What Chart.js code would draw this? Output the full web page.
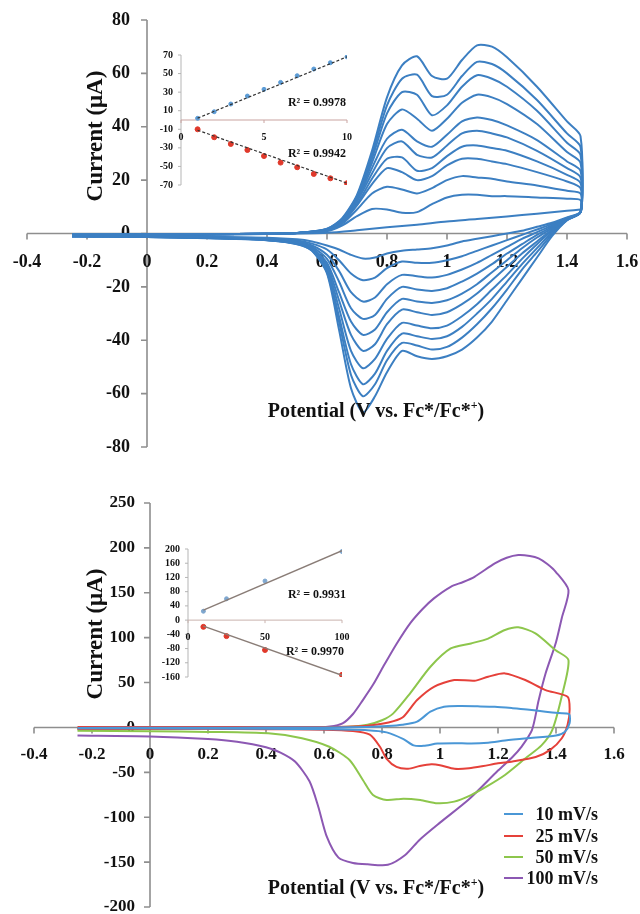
<!DOCTYPE html>
<html>
<head>
<meta charset="utf-8">
<script src="https://cdn.jsdelivr.net/npm/chart.js@4.4.1/dist/chart.umd.min.js"></script>
<style>
  body { margin: 0; background: #fff; }
  #page { position: relative; width: 640px; height: 914px; overflow: hidden; font-family: "Liberation Serif", "Times New Roman", serif; font-weight: bold; color: #111; }
  canvas { position: absolute; }
  .txt { position: absolute; white-space: nowrap; transform: translate(-50%, -50%); }
  .ytitle { font-size: 23px; transform: translate(-50%, -50%) rotate(-90deg); }
  .xtitle { font-size: 20px; }
  .r2 { font-size: 12px; }
  .lg-line { position: absolute; width: 19px; height: 2px; }
  .lg-text { position: absolute; white-space: nowrap; font-size: 18px; transform: translate(-100%, -50%); }
</style>
</head>
<body>
<div id="page">
  <canvas id="cvTop" width="640" height="460" style="left:0;top:0"></canvas>
  <canvas id="cvBottom" width="640" height="454" style="left:0;top:460px"></canvas>
  <canvas id="insetTop" width="260" height="180" style="left:120px;top:30px"></canvas>
  <canvas id="insetBottom" width="250" height="170" style="left:130px;top:530px"></canvas>

  <div class="txt ytitle" style="left:95px;top:136px">Current (μA)</div>
  <div class="txt xtitle" style="left:376px;top:410px">Potential (V vs. Fc*/Fc*<sup style="font-size:12px">+</sup>)</div>
  <div class="txt r2" style="left:317px;top:102px">R² = 0.9978</div>
  <div class="txt r2" style="left:317px;top:153px">R² = 0.9942</div>

  <div class="txt ytitle" style="left:95px;top:634px">Current (μA)</div>
  <div class="txt xtitle" style="left:376px;top:887px">Potential (V vs. Fc*/Fc*<sup style="font-size:12px">+</sup>)</div>
  <div class="txt r2" style="left:317px;top:594px">R² = 0.9931</div>
  <div class="txt r2" style="left:315px;top:651px">R² = 0.9970</div>
  <div id="legend"></div>
</div>

<script>
// ---- top panel: CVs at 1..10 mV/s, forward and reverse sweeps on shared potential grids
const scanRatesTop = [1, 2, 3, 4, 5, 6, 7, 8, 9, 10];
const fwdV = [-0.25, 0, 0.2, 0.4, 0.5, 0.6, 0.65, 0.7, 0.75, 0.8, 0.85, 0.9, 0.95, 1.0, 1.05, 1.1, 1.15, 1.2, 1.3, 1.4, 1.445];
const fwdI = [
  [-0.5, -0.4, -0.3, -0.1, 0.2, 0.9, 3, 6.5, 9.2, 9, 7.8, 8, 11, 13.5, 14.5, 14.5, 14, 14, 13.5, 13, 12.5],
  [-0.5, -0.4, -0.3, -0.1, 0.2, 1, 3.6, 9, 15, 17.5, 16.5, 15, 17, 20, 21.5, 21, 20.5, 19.5, 18, 16, 15],
  [-0.5, -0.4, -0.3, -0.1, 0.2, 1.1, 4, 10.5, 18.5, 24.5, 23, 20, 21.5, 25.5, 28, 28, 27, 26, 23, 19.5, 17],
  [-0.5, -0.4, -0.3, -0.1, 0.2, 1.2, 4.3, 11, 20.5, 28, 28.5, 23.5, 24.5, 29, 32.5, 33, 32, 31, 27, 22, 19],
  [-0.5, -0.4, -0.3, -0.1, 0.2, 1.3, 4.6, 12, 22.5, 32, 34.5, 29.5, 28.5, 33, 37.5, 38.5, 37.5, 36, 31, 24.5, 21],
  [-0.5, -0.4, -0.3, -0.1, 0.2, 1.4, 4.9, 12.5, 24.5, 35.5, 38.9, 34.5, 32.5, 37, 42, 43.5, 42.5, 40.5, 35, 27, 23.5],
  [-0.5, -0.4, -0.3, -0.1, 0.2, 1.5, 5.1, 13, 26.5, 41, 46.5, 43, 38.5, 43, 49, 52, 51, 48.5, 41, 30.5, 26.5],
  [-0.5, -0.4, -0.3, -0.1, 0.2, 1.6, 5.3, 13.5, 28, 45, 53, 52, 44.3, 48, 55, 59.3, 58, 55, 46, 34, 29.5],
  [-0.5, -0.4, -0.3, -0.1, 0.2, 1.7, 5.5, 14, 29.5, 48, 58, 59.5, 51.5, 52, 59, 64.3, 63.5, 60, 50, 37.5, 32.5],
  [-0.5, -0.4, -0.3, -0.1, 0.2, 1.8, 5.7, 14.5, 31, 51, 63, 66.4, 59, 58, 65, 70.5, 70, 66, 55, 42, 36.5]
];
const revV = [1.445, 1.4, 1.35, 1.3, 1.25, 1.2, 1.15, 1.1, 1.05, 1.0, 0.95, 0.9, 0.85, 0.8, 0.76, 0.72, 0.68, 0.64, 0.6, 0.55, 0.5, 0.4, 0.2, 0, -0.25];
const revI = [
  [8, 6, 4, 2.5, 1, 0, -1, -2, -3, -4.5, -5.5, -6, -6.5, -7.5, -9, -9.4, -8, -6, -4.5, -3, -2.2, -1.6, -1.2, -1, -0.8],
  [8, 5.8, 3.5, 1.5, -0.5, -2.5, -4.5, -6.5, -8.5, -10, -11, -11, -10.5, -13, -16.5, -17.5, -15, -10, -6, -3.8, -2.6, -1.8, -1.3, -1.1, -0.9],
  [8, 5.6, 3, 0.5, -2, -5, -8, -11, -13.5, -15.5, -16.5, -16, -15.5, -19, -24, -25.5, -22, -14, -8, -4.5, -3, -2, -1.4, -1.1, -0.9],
  [8, 5.5, 2.5, -0.5, -4, -7.5, -11.5, -15, -18, -20.5, -21.5, -21, -20, -24.5, -30.5, -32, -28, -18, -9.5, -5, -3.2, -2.1, -1.5, -1.2, -1],
  [8, 5.4, 2, -1.5, -5.5, -10, -14.5, -19, -22.5, -25, -26, -25.5, -24.5, -29.5, -36, -38, -33, -22, -11, -5.5, -3.4, -2.2, -1.5, -1.2, -1],
  [8, 5.3, 1.5, -3, -7.5, -12.5, -17.5, -22.5, -26.5, -29.5, -30.5, -29.5, -28.5, -34, -41.5, -44, -38, -25, -12, -5.8, -3.6, -2.3, -1.6, -1.2, -1],
  [8, 5.2, 1, -4, -9.5, -15.5, -21, -26.5, -31, -34.5, -35.5, -34.5, -33.5, -39.5, -47, -50.5, -44, -28, -13, -6, -3.7, -2.4, -1.6, -1.3, -1],
  [8, 5.1, 0.5, -5.5, -11.5, -18, -24.5, -30, -35, -38.5, -39.5, -38.5, -37.5, -44, -52.5, -56.5, -49, -31, -14, -6.2, -3.8, -2.4, -1.7, -1.3, -1],
  [8, 5, -0.3, -7, -13.5, -21, -28, -34, -39, -42.5, -43.5, -42, -41, -47.5, -56.5, -61, -53, -33, -14.5, -6.4, -3.9, -2.5, -1.7, -1.3, -1],
  [8, 5, -1, -9, -17, -25, -33, -39, -43.5, -46, -47, -46, -44, -52, -61, -67, -58, -36, -15, -6.5, -4, -2.5, -1.8, -1.3, -1]
];
// faint baseline sweep lying under the smallest loop
const baseV = [-0.25, 0, 0.2, 0.4, 0.6, 0.7, 0.8, 0.9, 1.0, 1.1, 1.2, 1.3, 1.4, 1.445];
const baseI = [-1, -0.8, -0.5, -0.2, 0.3, 1.2, 2.3, 3.3, 4.5, 5.4, 6.4, 7.4, 8.5, 9];

const topXTicks = [-0.4, -0.2, 0, 0.2, 0.4, 0.6, 0.8, 1, 1.2, 1.4, 1.6];
const topYTicks = [80, 60, 40, 20, 0, -20, -40, -60, -80];

// inset of the top panel: peak currents vs scan rate
const insetTopX = [1, 2, 3, 4, 5, 6, 7, 8, 9, 10];
const insetTopOx = [1.8, 8.9, 17.2, 25.8, 33, 40.5, 47.7, 54.9, 61.7, 68];
const insetTopRed = [-10, -18.6, -25.8, -32.3, -38.8, -45.9, -50.9, -58.1, -62.8, -68.1];
const insetTopFitX = [1, 10];
const insetTopFitOx = [2, 68];
const insetTopFitRed = [-11, -68];
const insetTopXTicks = [0, 5, 10];
const insetTopYTicks = [70, 50, 30, 10, -10, -30, -50, -70];

// ---- bottom panel: CVs at four scan rates
const legendNames = ['10 mV/s', '25 mV/s', '50 mV/s', '100 mV/s'];
const v10 = [-0.25, 0, 0.2, 0.4, 0.6, 0.75, 0.82, 0.87, 0.921, 0.967, 1.014, 1.07, 1.13, 1.189, 1.25, 1.3, 1.364, 1.41, 1.445, 1.447, 1.43, 1.4, 1.3, 1.224, 1.166, 1.107, 1.049, 0.991, 0.944, 0.909, 0.874, 0.816, 0.75, 0.6, 0.4, 0.2, 0, -0.25];
const i10 = [-0.5, -0.4, -0.3, -0.2, 0, 0.5, 1.5, 3, 6.4, 17.5, 23, 23.8, 23.5, 23, 21.5, 20, 17.5, 16, 14.9, 5, -5, -9, -12, -14.5, -17, -18, -17.5, -18, -20.5, -20, -13, -5.5, -3, -2, -1.5, -1.2, -1, -1];
const v25 = [-0.25, 0, 0.2, 0.4, 0.6, 0.7, 0.75, 0.8, 0.84, 0.874, 0.921, 0.979, 1.049, 1.119, 1.166, 1.224, 1.294, 1.364, 1.44, 1.447, 1.44, 1.42, 1.38, 1.33, 1.25, 1.2, 1.15, 1.1, 1.05, 1.0, 0.97, 0.93, 0.89, 0.85, 0.816, 0.793, 0.758, 0.7, 0.6, 0.4, 0.2, 0, -0.25];
const i25 = [0.5, 0.5, 0.5, 0.5, 0.5, 1, 2, 4, 7, 12, 30.5, 45.3, 52.8, 52, 56.5, 60.2, 52.8, 41.6, 34.2, 20, 3, -12, -25, -33, -38, -40, -43, -45.5, -46, -42, -41, -43, -46, -44, -35, -21.5, -8, -4, -2.5, -2, -1.5, -1.5, -1.5];
const v50 = [-0.25, 0, 0.2, 0.4, 0.6, 0.7, 0.75, 0.8, 0.839, 0.897, 0.967, 1.037, 1.107, 1.166, 1.224, 1.27, 1.329, 1.399, 1.443, 1.42, 1.387, 1.35, 1.3, 1.224, 1.16, 1.107, 1.049, 0.991, 0.932, 0.874, 0.816, 0.769, 0.734, 0.688, 0.618, 0.524, 0.408, 0.2, 0, -0.25];
const i50 = [-1, -0.8, -0.6, -0.5, 0, 1, 3, 8, 15.7, 38, 67.6, 88, 93.6, 99, 108.5, 111.5, 104.8, 86, 75, 35, -3, -20, -33, -53, -66, -75.3, -82.6, -84.5, -80.8, -79.3, -80.8, -75.3, -58.6, -36.3, -21.5, -12, -6.6, -5, -4.2, -3.8];
const v100 = [-0.25, 0, 0.2, 0.4, 0.55, 0.62, 0.664, 0.7, 0.734, 0.77, 0.804, 0.85, 0.897, 0.94, 0.979, 1.037, 1.08, 1.119, 1.189, 1.23, 1.27, 1.31, 1.34, 1.37, 1.399, 1.443, 1.42, 1.4, 1.364, 1.34, 1.317, 1.28, 1.25, 1.2, 1.1, 1.0, 0.93, 0.88, 0.82, 0.75, 0.7, 0.65, 0.61, 0.58, 0.55, 0.5, 0.45, 0.4, 0.3, 0.2, 0, -0.25];
const i100 = [-2, -1.5, -1.2, -1, -0.5, 1, 4.5, 15, 30.5, 48, 67.6, 93, 116, 132, 143.8, 156.7, 162, 167.8, 182.7, 189, 192, 191, 188.3, 182, 173.4, 153, 122, 95, 60, 30, -3, -22, -33, -48, -80, -106, -125, -142, -153, -152.5, -151, -145, -122, -88, -60, -38, -28, -22, -16, -13, -10, -9];

const bottomXTicks = [-0.4, -0.2, 0, 0.2, 0.4, 0.6, 0.8, 1, 1.2, 1.4, 1.6];
const bottomYTicks = [250, 200, 150, 100, 50, 0, -50, -100, -150, -200];

const insetBottomX = [10, 25, 50, 100];
const insetBottomOx = [25, 60, 110, 193];
const insetBottomRed = [-19, -45, -84, -154];
const insetBottomFitX = [10, 100];
const insetBottomFitOx = [28, 195];
const insetBottomFitRed = [-17, -155];
const insetBottomXTicks = [0, 50, 100];
const insetBottomYTicks = [200, 160, 120, 80, 40, 0, -40, -80, -120, -160];

const cvColors = ['#4a97d6', '#e5413a', '#8dc64c', '#8c58b3'];
const topBlue = '#3c7fc2';

function pts(xs, ys) {
  return xs.map((x, i) => ({ x: x, y: ys[i] }));
}

// axes crossing at the origin, drawn through the chart's own scales
const crossAxes = {
  id: 'crossAxes',
  beforeDatasetsDraw(chart, args, o) {
    const ctx = chart.ctx;
    const sx = chart.scales.x, sy = chart.scales.y;
    const ox = sx.getPixelForValue(0), oy = sy.getPixelForValue(0);
    ctx.save();
    ctx.lineWidth = o.lineWidth;
    ctx.strokeStyle = o.yColor;
    ctx.beginPath();
    ctx.moveTo(ox, sy.getPixelForValue(o.yTop));
    ctx.lineTo(ox, sy.getPixelForValue(o.yBottom));
    o.yTicks.forEach(v => {
      const p = sy.getPixelForValue(v);
      ctx.moveTo(ox - o.tickLen, p);
      ctx.lineTo(ox, p);
    });
    ctx.stroke();
    ctx.strokeStyle = o.xColor;
    ctx.beginPath();
    ctx.moveTo(sx.getPixelForValue(o.xLeft), oy);
    ctx.lineTo(sx.getPixelForValue(o.xRight), oy);
    o.xTicks.forEach(v => {
      const p = sx.getPixelForValue(v);
      ctx.moveTo(p, oy);
      ctx.lineTo(p, oy + o.tickLen);
    });
    ctx.stroke();
    ctx.fillStyle = '#111';
    ctx.font = o.tickFont;
    ctx.textBaseline = 'middle';
    ctx.textAlign = 'right';
    o.yTicks.forEach(v => ctx.fillText(String(v), ox - o.yGap, sy.getPixelForValue(v)));
    ctx.textAlign = 'center';
    o.xTicks.forEach(v => ctx.fillText(String(v), sx.getPixelForValue(v), oy + o.xGap));
    ctx.restore();
  }
};

function baseOptions(xMin, xMax, yMin, yMax, pad, axes) {
  return {
    responsive: false,
    animation: false,
    layout: { padding: pad },
    scales: {
      x: { type: 'linear', min: xMin, max: xMax, display: false },
      y: { type: 'linear', min: yMin, max: yMax, display: false }
    },
    plugins: { legend: { display: false }, tooltip: { enabled: false }, crossAxes: axes }
  };
}

// top panel
let topSets = scanRatesTop.map((r, k) => ({
  label: r + ' mV/s',
  data: pts(fwdV, fwdI[k]).concat(pts(revV, revI[k])),
  showLine: true,
  borderColor: topBlue,
  borderWidth: 2,
  pointRadius: 0,
  tension: 0.25
}));
topSets.push({
  label: 'baseline',
  data: pts(baseV, baseI),
  showLine: true,
  borderColor: topBlue,
  borderWidth: 2,
  pointRadius: 0,
  tension: 0.25
});
new Chart(document.getElementById('cvTop'), {
  type: 'scatter',
  data: { datasets: topSets },
  options: baseOptions(-0.4, 1.6, -80, 80, { left: 27, right: 13, top: 20, bottom: 13 }, {
    xTicks: topXTicks, yTicks: topYTicks, xLeft: -0.4, xRight: 1.6, yTop: 80, yBottom: -80,
    xColor: '#8e8e8e', yColor: '#8e8e8e', lineWidth: 1.6, tickLen: 6,
    tickFont: 'bold 18px "Liberation Serif", serif', xGap: 29, yGap: 17
  }),
  plugins: [crossAxes]
});

new Chart(document.getElementById('insetTop'), {
  type: 'scatter',
  data: {
    datasets: [
      { data: pts(insetTopFitX, insetTopFitOx), showLine: true, borderColor: '#333', borderWidth: 1.2, borderDash: [3, 2], pointRadius: 0 },
      { data: pts(insetTopFitX, insetTopFitRed), showLine: true, borderColor: '#333', borderWidth: 1.2, borderDash: [3, 2], pointRadius: 0 },
      { data: pts(insetTopX, insetTopOx), pointRadius: 2, backgroundColor: '#5b9bd5', borderColor: '#5b9bd5' },
      { data: pts(insetTopX, insetTopRed), pointRadius: 2.5, backgroundColor: '#e0392b', borderColor: '#e0392b' }
    ]
  },
  options: baseOptions(0, 10, -70, 70, { left: 61, right: 33, top: 25, bottom: 25 }, {
    xTicks: insetTopXTicks, yTicks: insetTopYTicks, xLeft: 0, xRight: 10, yTop: 70, yBottom: -70,
    xColor: '#c9a3a0', yColor: '#b5b5b5', lineWidth: 1, tickLen: 3,
    tickFont: 'bold 10px "Liberation Serif", serif', xGap: 17, yGap: 8
  }),
  plugins: [crossAxes]
});

// bottom panel
const bottomSeries = [pts(v10, i10), pts(v25, i25), pts(v50, i50), pts(v100, i100)];
new Chart(document.getElementById('cvBottom'), {
  type: 'scatter',
  data: {
    datasets: bottomSeries.map((d, k) => ({
      label: legendNames[k],
      data: d,
      showLine: true,
      borderColor: cvColors[k],
      borderWidth: 2,
      pointRadius: 0,
      tension: 0.25
    }))
  },
  options: baseOptions(-0.4, 1.6, -200, 250, { left: 34, right: 26, top: 43, bottom: 7 }, {
    xTicks: bottomXTicks, yTicks: bottomYTicks, xLeft: -0.4, xRight: 1.6, yTop: 250, yBottom: -200,
    xColor: '#8e8e8e', yColor: '#8e8e8e', lineWidth: 1.6, tickLen: 6,
    tickFont: 'bold 17px "Liberation Serif", serif', xGap: 27, yGap: 15
  }),
  plugins: [crossAxes]
});

new Chart(document.getElementById('insetBottom'), {
  type: 'scatter',
  data: {
    datasets: [
      { data: pts(insetBottomFitX, insetBottomFitOx), showLine: true, borderColor: '#8a7d77', borderWidth: 1.5, pointRadius: 0 },
      { data: pts(insetBottomFitX, insetBottomFitRed), showLine: true, borderColor: '#8a7d77', borderWidth: 1.5, pointRadius: 0 },
      { data: pts(insetBottomX, insetBottomOx), pointRadius: 2, backgroundColor: '#7fa7cf', borderColor: '#7fa7cf' },
      { data: pts(insetBottomX, insetBottomRed), pointRadius: 2.5, backgroundColor: '#e0392b', borderColor: '#e0392b' }
    ]
  },
  options: baseOptions(0, 100, -160, 200, { left: 58, right: 38, top: 19, bottom: 23 }, {
    xTicks: insetBottomXTicks, yTicks: insetBottomYTicks, xLeft: 0, xRight: 100, yTop: 200, yBottom: -160,
    xColor: '#c9b3ae', yColor: '#b5b5b5', lineWidth: 1, tickLen: 3,
    tickFont: 'bold 10px "Liberation Serif", serif', xGap: 17, yGap: 8
  }),
  plugins: [crossAxes]
});

// legend for the bottom panel
const legendRows = [814, 836, 857, 878];
const legend = document.getElementById('legend');
legendNames.forEach((name, k) => {
  legend.innerHTML += `<div class="lg-line" style="left:504px;top:${legendRows[k] - 1}px;background:${cvColors[k]}"></div>` +
    `<div class="lg-text" style="left:598px;top:${legendRows[k]}px">${name}</div>`;
});
</script>
</body>
</html>
